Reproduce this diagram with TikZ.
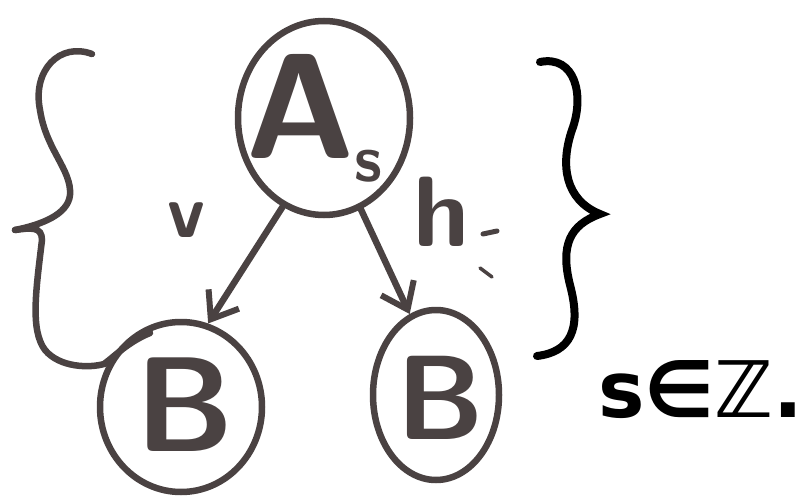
\documentclass[tikz,border=0pt]{standalone}
\usepackage{fontspec}
\newfontfamily\djv{DejaVu Sans}
\usetikzlibrary{shapes.geometric,arrows.meta}
\definecolor{ink}{HTML}{4A4242}
\tikzset{
  bubble/.style={ellipse,draw=ink,line width=6.5pt,inner sep=0pt},
  handtext/.style={text=ink,font=\sffamily,inner sep=0pt},
  ptr/.style={draw=ink,line width=6.5pt,line cap=round,-{Straight Barb[length=24pt,width=36pt,line width=6pt]}},
  stroke/.style={line width=6.5pt,line cap=round},
}
\begin{document}
\begin{tikzpicture}[x=1pt,y=-1pt]
\useasboundingbox (0,0) rectangle (803,500);
% nodes
\node[bubble,minimum width=172pt,minimum height=194pt] (A) at (324,118) {};
\node[bubble,minimum width=162pt,minimum height=170pt] (Bl) at (181,407) {};
\node[bubble,minimum width=126pt,minimum height=170pt] (Br) at (436,395) {};
\node[handtext,font=\sffamily\bfseries\fontsize{150}{150}\selectfont] (Atxt) at (300,106) {A};
\node[handtext,font=\sffamily\bfseries\fontsize{66}{66}\selectfont] (stxt) at (368,166) {s};
\node[handtext,font=\sffamily\bfseries\fontsize{135}{135}\selectfont] (Bltxt) at (185,405) {B};
\node[handtext,font=\sffamily\bfseries\fontsize{120}{120}\selectfont] (Brtxt) at (440,398) {B};
\node[handtext,font=\sffamily\bfseries\fontsize{76}{76}\selectfont] (vtxt) at (186,220) {v};
\node[handtext,font=\sffamily\bfseries\fontsize{100}{100}\selectfont] (htxt) at (442,212) {h};
\node[text=black,inner sep=0pt,anchor=west,font=\djv\bfseries\fontsize{78}{78}\selectfont] (set) at (598,390) {s∈ℤ.};
% arrows
\draw[ptr] (A.245) -- (Bl.72);
\draw[ptr] (A.292) -- (Br.108);
% small marks after h
\draw[ink,stroke,line width=5pt] (483,234) -- (497,231);
\draw[ink,stroke,line width=3.5pt] (480,268) -- (492,277);
% left brace
\draw[ink,stroke] (92,54) .. controls (60,42) and (32,70) .. (40,110)
  .. controls (46,150) and (72,170) .. (70,195)
  .. controls (68,215) and (40,225) .. (15,230);
\draw[ink,stroke] (15,230) .. controls (30,228) and (42,226) .. (42,240)
  .. controls (36,290) and (30,330) .. (45,350)
  .. controls (60,368) and (90,368) .. (104,364)
  .. controls (115,356) and (128,342) .. (150,333);
% right brace
\draw[black,stroke,line width=8pt] (540,62) .. controls (575,55) and (585,95) .. (572,130)
  .. controls (560,165) and (565,200) .. (600,214)
  .. controls (570,225) and (560,245) .. (570,285)
  .. controls (582,330) and (570,352) .. (537,356);
\end{tikzpicture}
\end{document}
